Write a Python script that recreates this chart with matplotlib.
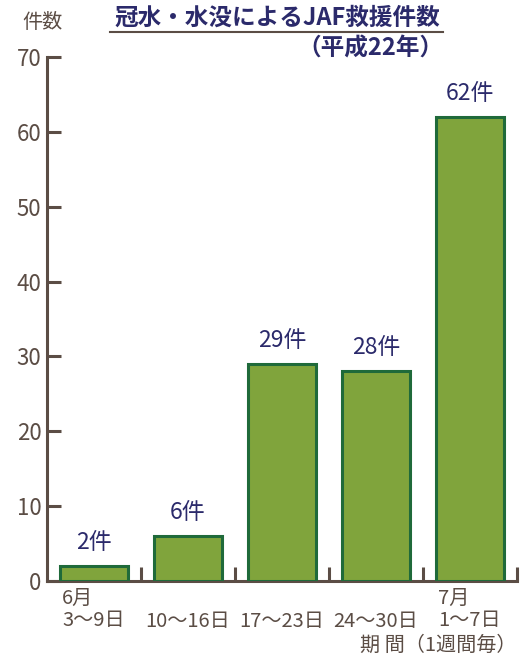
import numpy as np
import matplotlib.pyplot as plt

plt.rcParams['font.family'] = ['Noto Sans CJK JP', 'DejaVu Sans']

categories = ['6月\n3～9日', '10～16日', '17～23日', '24～30日', '7月\n1～7日']
counts = [2, 6, 29, 28, 62]
yticks = [0, 10, 20, 30, 40, 50, 60, 70]

axis_c = '#5b4d45'
text_c = '#5b4d45'
navy = '#2b2a6b'

fig = plt.figure(figsize=(5.2, 6.55), dpi=100)
ax = fig.add_axes([47/520, 74/655, 470/520, 524/655])

x = np.arange(len(counts))
ax.bar(x, counts, width=0.72, color='#80a43c', edgecolor='#1f6a3a', linewidth=2.2, zorder=3)

for xi, v in zip(x, counts):
    ax.text(xi, v + 1.6, f'{v}件', ha='center', va='bottom', fontsize=16.5, color=navy)

ax.set_xlim(-0.5, 4.5)
ax.set_ylim(0, 70)
for s in ['top', 'right']:
    ax.spines[s].set_visible(False)
for s in ['left', 'bottom']:
    ax.spines[s].set_color(axis_c)
    ax.spines[s].set_linewidth(2.2)

ax.set_yticks(yticks)
ax.tick_params(axis='y', direction='in', length=10, width=2.2, color=axis_c,
               labelcolor=text_c, labelsize=16, pad=4)
ax.set_xticks(np.arange(0.5, 5, 1))
ax.set_xticklabels([])
ax.tick_params(axis='x', direction='in', length=10, width=2.2, color=axis_c)

# category labels
for xi, lab in zip(x, categories):
    if '\n' in lab:
        ax.text(xi - 0.34, -0.9, lab, ha='left', va='top', fontsize=14.5,
                color=text_c, linespacing=1.05)
    else:
        ax.text(xi, -4.0, lab, ha='center', va='top', fontsize=14.5, color=text_c)

fig.text(517/520, 1 - 645/655, '期 間（1週間毎）', ha='right', va='center', fontsize=14.5, color=text_c)
fig.text(42/520, 1 - 22/655, '件数', ha='center', va='center', fontsize=14.5, color=text_c)

fig.text(277/520, 1 - 18/655, '冠水・水没によるJAF救援件数', ha='center', va='center',
         fontsize=17, fontweight='bold', color=navy)
fig.add_artist(plt.Line2D([110/520, 443/520], [1 - 32/655, 1 - 32/655],
                          color=axis_c, linewidth=1.5))
fig.text(370/520, 1 - 49/655, '（平成22年）', ha='center', va='center',
         fontsize=17, fontweight='bold', color=navy)

fig.savefig('out.png', dpi=100)
